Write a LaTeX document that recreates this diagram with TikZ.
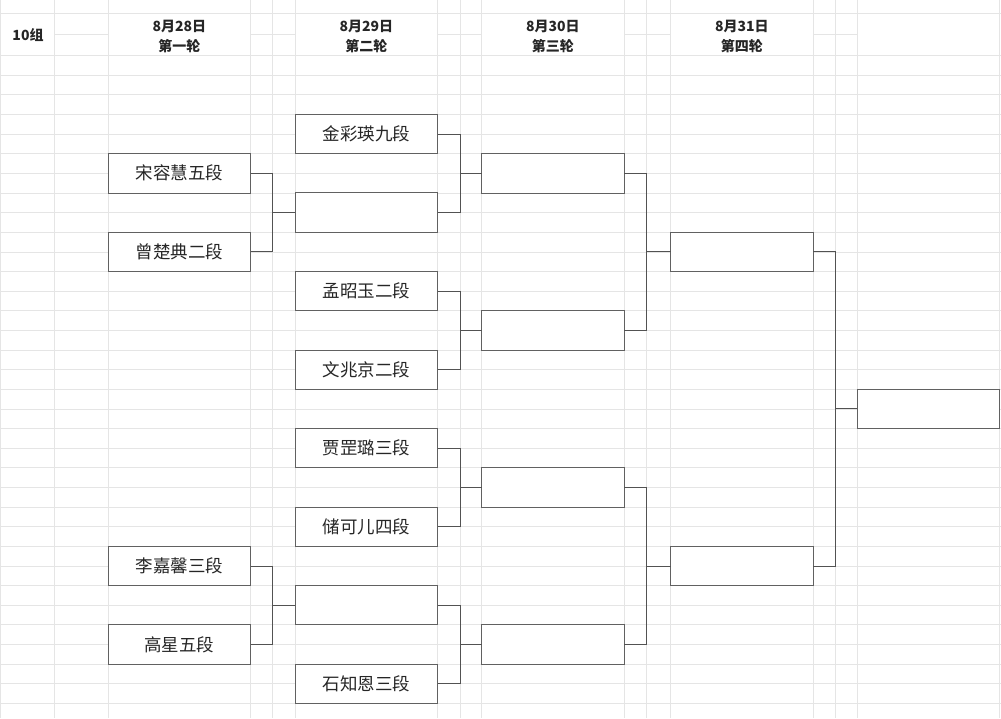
\documentclass[tikz,border=0pt]{standalone}
\usepackage{fontspec}
\newfontfamily\cjk{Noto Sans CJK SC}
\usepackage{tikz}

\begin{document}
\begin{tikzpicture}[x=1pt,y=-1pt,
	gridline/.style={draw=black!10,line width=0.6pt},
	player/.style={draw=black!62,fill=white,line width=0.8pt,minimum width=142.5pt,minimum height=39.3pt,inner sep=0pt,outer sep=0pt,font=\cjk\fontsize{17.5}{20}\selectfont,text=black!85},
	dayhead/.style={align=center,font=\cjk\bfseries\fontsize{14}{20}\selectfont,text=black!85},
	link/.style={draw=black!68,line width=0.8pt}]
				\useasboundingbox (0,0) rectangle (1001,718);
				\fill[white] (0,0) rectangle (1001,718);
				
				% sheet grid
				\foreach \gx in {0.5,54.3,108.3,250.5,272.7,295.3,437.5,459.8,481.5,624.3,646.7,670.5,813.3,835.3,857.3,999.5}
					\draw[gridline] (\gx,0) -- (\gx,718);
				\draw[gridline] (0,13.3) -- (1001,13.3);
				\foreach \gy in {0,...,33}
					\draw[gridline] (0,{55.5+19.63*\gy}) -- (1001,{55.5+19.63*\gy});
				\foreach \xa/\xb in {54.3/108.3,250.5/295.3,437.5/481.5,624.3/670.5,813.3/857.3}
					\draw[gridline] (\xa,34) -- (\xb,34);
				
				% headers
				\node[dayhead] (grp) at (28,35.5) {10组};
				\node[dayhead] (day1) at (179.4,36.5) {8月28日\\第一轮};
				\node[dayhead] (day2) at (366.4,36.5) {8月29日\\第二轮};
				\node[dayhead] (day3) at (552.9,36.5) {8月30日\\第三轮};
				\node[dayhead] (day4) at (741.9,36.5) {8月31日\\第四轮};
				
				% first round
				\node[player] (ra1) at (179.4,173.3) {宋容慧五段};
				\node[player] (ra2) at (179.4,251.8) {曾楚典二段};
				\node[player] (ra3) at (179.4,565.9) {李嘉馨三段};
				\node[player] (ra4) at (179.4,644.4) {高星五段};
				
				% second round
				\node[player] (rb1) at (366.4,134.0) {金彩瑛九段};
				\node[player] (rb2) at (366.4,212.5) {};
				\node[player] (rb3) at (366.4,291.1) {孟昭玉二段};
				\node[player] (rb4) at (366.4,369.6) {文兆京二段};
				\node[player] (rb5) at (366.4,448.1) {贾罡璐三段};
				\node[player] (rb6) at (366.4,526.6) {储可儿四段};
				\node[player] (rb7) at (366.4,605.1) {};
				\node[player] (rb8) at (366.4,683.7) {石知恩三段};
				
				% third round
				\node[player] (rc1) at (552.9,173.3) {};
				\node[player] (rc2) at (552.9,330.3) {};
				\node[player] (rc3) at (552.9,487.4) {};
				\node[player] (rc4) at (552.9,644.4) {};
				
				% fourth round and winner
				\node[player] (rd1) at (741.9,251.8) {};
				\node[player] (rd2) at (741.9,565.9) {};
				\node[player] (win) at (928.4,408.8) {};
				
				% brackets
				\draw[link] (ra1.east) -- ++(22.2,0) |- (ra2.east);
				\draw[link] (rb2.west) -- ++(-22.6,0);
				\draw[link] (ra3.east) -- ++(22.2,0) |- (ra4.east);
				\draw[link] (rb7.west) -- ++(-22.6,0);
				
				\draw[link] (rb1.east) -- ++(22.3,0) |- (rb2.east);
				\draw[link] (rc1.west) -- ++(-21.7,0);
				\draw[link] (rb3.east) -- ++(22.3,0) |- (rb4.east);
				\draw[link] (rc2.west) -- ++(-21.7,0);
				\draw[link] (rb5.east) -- ++(22.3,0) |- (rb6.east);
				\draw[link] (rc3.west) -- ++(-21.7,0);
				\draw[link] (rb7.east) -- ++(22.3,0) |- (rb8.east);
				\draw[link] (rc4.west) -- ++(-21.7,0);
				
				\draw[link] (rc1.east) -- ++(22.4,0) |- (rc2.east);
				\draw[link] (rd1.west) -- ++(-23.8,0);
				\draw[link] (rc3.east) -- ++(22.4,0) |- (rc4.east);
				\draw[link] (rd2.west) -- ++(-23.8,0);
				
				\draw[link] (rd1.east) -- ++(22,0) |- (rd2.east);
				\draw[link] (win.west) -- ++(-22,0);
				\end{tikzpicture}
\end{document}
